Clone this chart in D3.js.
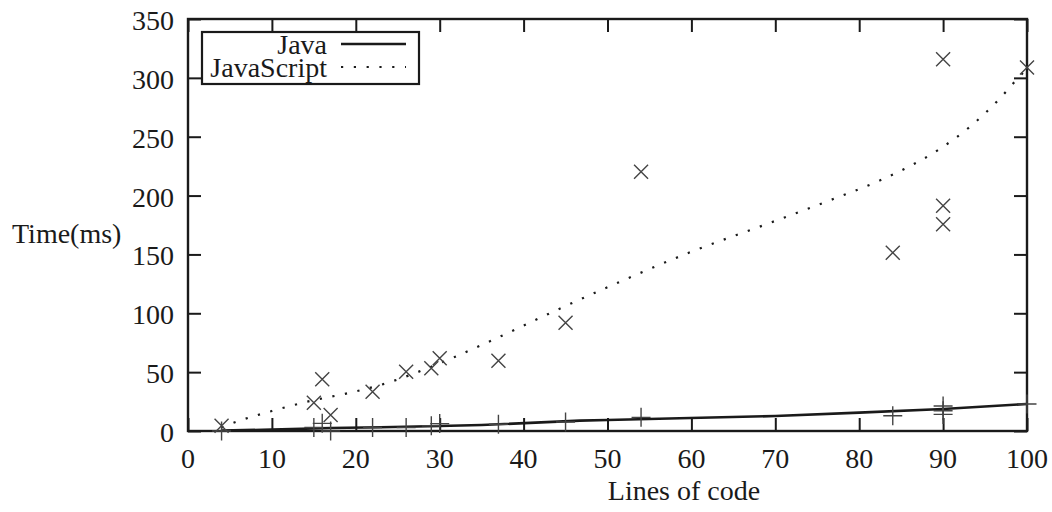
<!DOCTYPE html>
<html>
<head>
<meta charset="utf-8">
<script src="https://cdn.jsdelivr.net/npm/d3@7"></script>
<style>
  body { margin: 0; background: #fff; }
  svg { display: block; font-family: "Liberation Serif", "Times New Roman", serif; }
</style>
</head>
<body>
<svg id="chart" width="1052" height="512"></svg>
<script>
// measured points (lines of code, time in ms)
const javaX = [4, 15, 16, 17, 22, 26, 29, 30, 37, 45, 54, 84, 90, 90, 90, 100];
const javaY = [0, 3, 6.5, 0, 3, 3, 4.5, 6.3, 5.7, 7.6, 11.6, 13, 21.2, 17.2, 14.1, 23];

const jsX = [4, 15, 16, 17, 22, 26, 29, 30, 37, 45, 54, 84, 90, 90, 90, 100];
const jsY = [4.5, 24, 44, 13.6, 33.4, 50.4, 53.3, 61.8, 59.7, 92, 220.3, 151.5, 315.8, 191.4, 175.6, 308.7];

// fitted curves
const javaFitX = [4, 10, 17, 23, 30, 35, 46.7, 50, 58.6, 70, 80, 90, 100];
const javaFitY = [0.3, 1.2, 2.5, 3.2, 4.3, 5.1, 8.8, 9.3, 10.8, 12.7, 15.6, 18.7, 23];

const jsFitX = [4, 5.6, 10, 14.7, 19.3, 24, 27, 31.3, 37.1, 44.3, 51.5, 60, 68.9, 76.3, 82.2, 85.3, 89.4, 93.2, 96.7, 98.7, 100];
const jsFitY = [3, 7.4, 17, 25.7, 32.5, 41.4, 49, 61.4, 79.9, 103.9, 126.8, 152.3, 175.6, 195.4, 212, 222.3, 238.7, 258.5, 282, 298, 308];

const xTicks = [0, 10, 20, 30, 40, 50, 60, 70, 80, 90, 100];
const yTicks = [0, 50, 100, 150, 200, 250, 300, 350];

const seriesNames = ["Java", "JavaScript"];

const svg = d3.select("#chart");
const margin = { top: 19, right: 25, bottom: 81, left: 188 };
const width = 1052, height = 512;
const ink = "#1a1a1a";

const x = d3.scaleLinear().domain([0, 100]).range([margin.left, width - margin.right]);
const y = d3.scaleLinear().domain([0, 350]).range([height - margin.bottom, margin.top]);

const tickLen = 13;

// inward ticks on all four sides
const bottomAxis = svg.append("g")
    .attr("transform", `translate(0,${y(0)})`)
    .call(d3.axisTop(x).tickValues(xTicks).tickSize(tickLen).tickFormat(""));
const topAxis = svg.append("g")
    .attr("transform", `translate(0,${y(350)})`)
    .call(d3.axisBottom(x).tickValues(xTicks).tickSize(tickLen).tickFormat(""));
const leftAxis = svg.append("g")
    .attr("transform", `translate(${x(0)},0)`)
    .call(d3.axisRight(y).tickValues(yTicks).tickSize(tickLen).tickFormat(""));
const rightAxis = svg.append("g")
    .attr("transform", `translate(${x(100)},0)`)
    .call(d3.axisLeft(y).tickValues(yTicks).tickSize(tickLen).tickFormat(""));

[bottomAxis, topAxis, leftAxis, rightAxis].forEach(g => {
    g.select(".domain").remove();
    g.selectAll("line").attr("stroke", ink).attr("stroke-width", 2);
});

// frame
svg.append("rect")
    .attr("x", x(0)).attr("y", y(350))
    .attr("width", x(100) - x(0)).attr("height", y(0) - y(350))
    .attr("fill", "none").attr("stroke", ink).attr("stroke-width", 2.4);

// tick labels
svg.append("g").selectAll("text")
    .data(xTicks).join("text")
    .attr("x", d => x(d)).attr("y", y(0) + 37)
    .attr("text-anchor", "middle")
    .attr("font-size", 28).attr("fill", ink)
    .text(d => d);

svg.append("g").selectAll("text")
    .data(yTicks).join("text")
    .attr("x", x(0) - 14).attr("y", d => y(d) + 11)
    .attr("text-anchor", "end")
    .attr("font-size", 28).attr("fill", ink)
    .text(d => d);

// axis titles
svg.append("text")
    .attr("x", 684).attr("y", 500)
    .attr("text-anchor", "middle")
    .attr("font-size", 28).attr("fill", ink)
    .text("Lines of code");

svg.append("text")
    .attr("x", 12).attr("y", 243)
    .attr("font-size", 28).attr("fill", ink)
    .text("Time(ms)");

// fitted lines
const line = d3.line().x(d => x(d[0])).y(d => y(d[1]));

svg.append("path")
    .datum(d3.zip(javaFitX, javaFitY))
    .attr("d", line.curve(d3.curveLinear))
    .attr("fill", "none").attr("stroke", ink).attr("stroke-width", 2.6);

svg.append("path")
    .datum(d3.zip(jsFitX, jsFitY))
    .attr("d", line.curve(d3.curveMonotoneX))
    .attr("fill", "none").attr("stroke", ink).attr("stroke-width", 2.2)
    .attr("stroke-dasharray", "2.2,10.6");

// markers
const plusSize = 9.5;
svg.append("g").selectAll("path")
    .data(d3.zip(javaX, javaY)).join("path")
    .attr("d", d => {
        const cx = x(d[0]), cy = y(d[1]);
        return `M${cx - plusSize},${cy}H${cx + plusSize}M${cx},${cy - plusSize}V${cy + plusSize}`;
    })
    .attr("fill", "none").attr("stroke", "#444").attr("stroke-width", 1.4);

const crossSize = 7;
svg.append("g").selectAll("path")
    .data(d3.zip(jsX, jsY)).join("path")
    .attr("d", d => {
        const cx = x(d[0]), cy = y(d[1]);
        return `M${cx - crossSize},${cy - crossSize}L${cx + crossSize},${cy + crossSize}` +
               `M${cx - crossSize},${cy + crossSize}L${cx + crossSize},${cy - crossSize}`;
    })
    .attr("fill", "none").attr("stroke", "#444").attr("stroke-width", 1.4);

// legend
const legend = svg.append("g");
legend.append("rect")
    .attr("x", 202).attr("y", 32).attr("width", 217).attr("height", 52)
    .attr("fill", "#fff").attr("stroke", ink).attr("stroke-width", 2.2);

seriesNames.forEach((name, i) => {
    const baseY = 54 + i * 23;
    legend.append("text")
        .attr("x", 327).attr("y", baseY)
        .attr("text-anchor", "end")
        .attr("font-size", 28).attr("fill", ink)
        .text(name);
    const sample = legend.append("line")
        .attr("x1", 341).attr("x2", 406)
        .attr("y1", baseY - 10).attr("y2", baseY - 10)
        .attr("stroke", ink);
    if (i === 0) sample.attr("stroke-width", 2.6);
    else sample.attr("stroke-width", 2.2).attr("stroke-dasharray", "2.2,10.6");
});
</script>
</body>
</html>
